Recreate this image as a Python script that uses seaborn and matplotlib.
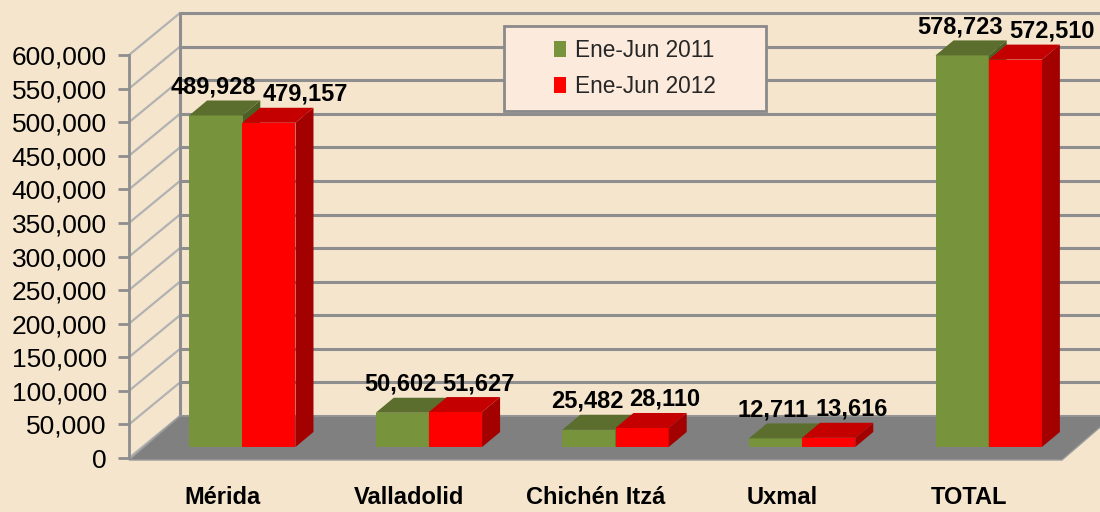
import numpy as np
import pandas as pd
import matplotlib
matplotlib.use("Agg")
import matplotlib.pyplot as plt
import seaborn as sns
from matplotlib.patches import Polygon, Rectangle, Patch
from matplotlib.lines import Line2D
from matplotlib.transforms import IdentityTransform

# ---------------- data ----------------
categories = ["Mérida", "Valladolid", "Chichén Itzá", "Uxmal", "TOTAL"]
series_names = ["Ene-Jun 2011", "Ene-Jun 2012"]
values_2011 = [489928, 50602, 25482, 12711, 578723]
values_2012 = [479157, 51627, 28110, 13616, 572510]
y_ticks = list(range(0, 600001, 50000))
y_tick_labels = [f"{v:,}" for v in y_ticks]

# ---------------- style ----------------
W, H = 1100, 512
BG = "#F5E5CD"
GREEN, GREEN_TOP, GREEN_SIDE = "#77933C", "#5B6E2D", "#4E5F26"
RED, RED_TOP, RED_SIDE = "#FF0000", "#C40000", "#A30000"
GRID = "#8E8E8E"
WALL = "#B2B2B2"
FLOOR = "#808080"
REG = ["Liberation Sans", "DejaVu Sans"]
BOLD_SIZE = 17

sns.set_theme(style="white")
plt.rcParams["font.family"] = REG

df = pd.DataFrame({
    "category": categories * 2,
    "series": [series_names[0]] * len(categories) + [series_names[1]] * len(categories),
    "value": values_2011 + values_2012,
})

fig = plt.figure(figsize=(W / 100, H / 100), dpi=100)
fig.patch.set_facecolor(BG)


def rect(left, top, right, bottom):
    return [left / W, 1 - bottom / H, (right - left) / W, (bottom - top) / H]


# front plane axes (ticks, walls, floor)
ax = fig.add_axes(rect(129, 55, 1062, 458))
ax.set_xlim(-0.5, len(categories) - 0.5)
ax.set_ylim(0, 600000)
ax.patch.set_alpha(0)
ax.set_yticks(y_ticks)
ax.set_yticklabels(y_tick_labels, fontsize=19, color="black")
ax.set_xticks(range(len(categories)))
ax.set_xticklabels(categories, fontsize=BOLD_SIZE, fontweight="bold", color="black")
ax.tick_params(axis="y", left=True, length=8, width=2, color=GRID, pad=8)
ax.tick_params(axis="x", bottom=False, length=0, pad=20)
for s in ["top", "right", "bottom"]:
    ax.spines[s].set_visible(False)
ax.spines["left"].set_color(GRID)
ax.spines["left"].set_linewidth(2)

# bar plane axes (offset in depth)
axb = fig.add_axes(rect(149, 41, 1082, 447))
axb.patch.set_alpha(0)
sns.barplot(data=df, x="category", y="value", hue="series", order=categories,
            hue_order=series_names, palette=[GREEN, RED], width=0.57, gap=0,
            saturation=1, legend=False, ax=axb, errorbar=None, linewidth=0)
axb.set_xlim(-0.5, len(categories) - 0.5)
axb.set_ylim(0, 600000)
axb.axis("off")

# ---------------- 3D walls / floor (derived from ax scale) ----------------
DXW, DYW = 51, 42
idt = IdentityTransform()
x_left_d = ax.transData.transform((-0.5, 0))[0]
x_right_d = ax.transData.transform((len(categories) - 0.5, 0))[0]
for v in y_ticks:
    yd = ax.transData.transform((-0.5, v))[1]
    ax.add_line(Line2D([x_left_d, x_left_d + DXW], [yd, yd + DYW], color=WALL,
                       lw=1.6, transform=idt, clip_on=False, zorder=0.5))
    ax.add_line(Line2D([x_left_d + DXW, W + 50], [yd + DYW, yd + DYW], color=GRID,
                       lw=2.2, transform=idt, clip_on=False, zorder=0.5))
y0d = ax.transData.transform((0, 0))[1]
ytopd = ax.transData.transform((0, 600000))[1]
ax.add_line(Line2D([x_left_d + DXW, x_left_d + DXW], [y0d + DYW, ytopd + DYW], color=GRID,
                   lw=2.2, transform=idt, clip_on=False, zorder=0.5))
floor = Polygon([(x_left_d, y0d - 2), (x_right_d, y0d - 2), (x_right_d + DXW, y0d + DYW),
                 (x_left_d + DXW, y0d + DYW)], closed=True, facecolor=FLOOR,
                edgecolor="#9A9A9A", lw=1, transform=idt, clip_on=False, zorder=0.6)
ax.add_patch(floor)

# ---------------- 3D bar faces ----------------
DX, DY = 18, 15
patches = [p for p in axb.patches]
greens = sorted([p for p in patches if abs(p.get_facecolor()[1] - matplotlib.colors.to_rgba(GREEN)[1]) < 0.05],
                key=lambda p: p.get_x())
reds = sorted([p for p in patches if p not in greens], key=lambda p: p.get_x())


def faces(p, top_c, side_c, z):
    (x0, y0), (x1, y1) = axb.transData.transform(
        [(p.get_x(), p.get_y()), (p.get_x() + p.get_width(), p.get_y() + p.get_height())])
    p.set_zorder(z)
    top = Polygon([(x0, y1), (x1, y1), (x1 + DX, y1 + DY), (x0 + DX, y1 + DY)], closed=True,
                  facecolor=top_c, lw=0, transform=idt, clip_on=False, zorder=z + 0.05)
    side = Polygon([(x1, y0), (x1 + DX, y0 + DY), (x1 + DX, y1 + DY), (x1, y1)], closed=True,
                   facecolor=side_c, lw=0, transform=idt, clip_on=False, zorder=z + 0.05)
    axb.add_patch(top)
    axb.add_patch(side)
    return (x0 + x1) / 2, y1 + DY


fig.canvas.draw()
renderer = fig.canvas.get_renderer()
for i, (g, r) in enumerate(zip(greens, reds)):
    gx, gy = faces(g, GREEN_TOP, GREEN_SIDE, 2 + i * 0.3)
    rx, ry = faces(r, RED_TOP, RED_SIDE, 2.15 + i * 0.3)
    tg = axb.text(gx - 2, gy + 7, f"{values_2011[i]:,}", transform=idt, ha="center", va="baseline",
                  fontsize=BOLD_SIZE, fontweight="bold", color="black", zorder=10)
    ext = tg.get_window_extent(renderer)
    axb.text(ext.x1 + 6, ry + 7, f"{values_2012[i]:,}", transform=idt, ha="left", va="baseline",
             fontsize=BOLD_SIZE, fontweight="bold", color="black", zorder=10)

# ---------------- legend ----------------
box = Rectangle((504 / W, 1 - 111 / H), (766 - 504) / W, (111 - 26) / H, transform=fig.transFigure,
                facecolor="#FCEADC", edgecolor="#8A8A8A", lw=2, zorder=20)
fig.add_artist(box)
handles = [Patch(facecolor=GREEN, edgecolor="none"), Patch(facecolor=RED, edgecolor="none")]
leg = fig.legend(handles, series_names, loc="center", bbox_to_anchor=((504 + 766) / 2 / W, 1 - 68.5 / H),
                 frameon=False, fontsize=16.3, handlelength=0.5, handleheight=0.7,
                 handletextpad=0.4, labelspacing=0.55, borderpad=0)
leg.set_zorder(21)

fig.savefig("out.png", dpi=100, facecolor=BG)
